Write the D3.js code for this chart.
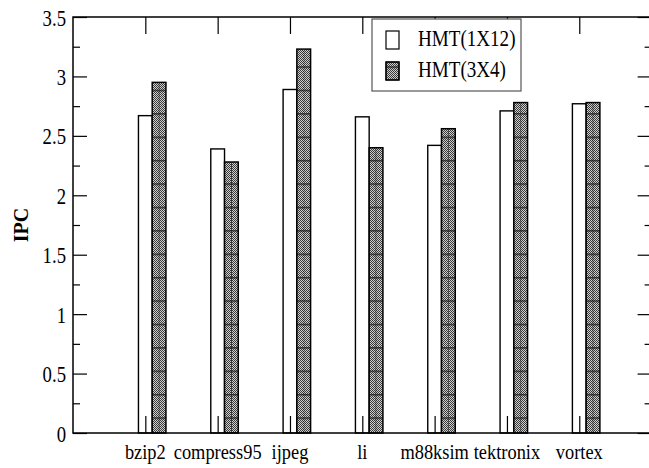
<!DOCTYPE html>
<html>
<head>
<meta charset="utf-8">
<script src="https://cdn.jsdelivr.net/npm/d3@7"></script>
<style>
  body { margin: 0; background: #fff; }
  svg text { font-family: "Liberation Serif", "Times New Roman", serif; fill: #000; }
</style>
</head>
<body>
<div id="chart"></div>
<script>
// data
const categories = ["bzip2", "compress95", "ijpeg", "li", "m88ksim", "tektronix", "vortex"];
const seriesNames = ["HMT(1X12)", "HMT(3X4)"];
const hmt1x12 = [2.67, 2.39, 2.89, 2.66, 2.42, 2.71, 2.77];
const hmt3x4  = [2.95, 2.28, 3.23, 2.40, 2.56, 2.78, 2.78];
const yMajor = [0, 0.5, 1, 1.5, 2, 2.5, 3, 3.5];
const yMinor = [0.25, 0.75, 1.25, 1.75, 2.25, 2.75, 3.25];

const width = 649, height = 468;
const pLeft = 73, pRight = 651.6, pTop = 17, pBottom = 433;
const barW = 0.19; // in x units

const svg = d3.select("#chart").append("svg")
  .attr("width", width).attr("height", height);

const defs = svg.append("defs");
const dots = defs.append("pattern").attr("id", "dots")
  .attr("patternUnits", "userSpaceOnUse").attr("width", 2).attr("height", 2);
dots.append("rect").attr("width", 2).attr("height", 2).attr("fill", "#cfcfcf");
dots.append("rect").attr("width", 1).attr("height", 1).attr("fill", "#3a3a3a");
dots.append("rect").attr("x", 1).attr("y", 1).attr("width", 1).attr("height", 1).attr("fill", "#3a3a3a");
const hl = defs.append("pattern").attr("id", "hlines")
  .attr("patternUnits", "userSpaceOnUse").attr("width", 10).attr("height", 23.4);
hl.append("rect").attr("y", 19.8).attr("width", 10).attr("height", 1.1).attr("fill", "#111");

const x = d3.scaleLinear().domain([0, categories.length + 1]).range([pLeft, pRight]);
const y = d3.scaleLinear().domain([0, 3.5]).range([pBottom, pTop]);

// white bars
svg.append("g").selectAll("rect").data(hmt1x12).join("rect")
  .attr("x", (d, i) => x(i + 1 - barW / 2))
  .attr("y", d => y(d))
  .attr("width", x(barW) - x(0))
  .attr("height", d => pBottom - y(d))
  .attr("fill", "#fff").attr("stroke", "#000").attr("stroke-width", 1.4);

// hatched bars
const hb = svg.append("g").selectAll("g").data(hmt3x4).join("g");
hb.append("rect")
  .attr("x", (d, i) => x(i + 1 + barW / 2))
  .attr("y", d => y(d))
  .attr("width", x(barW) - x(0))
  .attr("height", d => pBottom - y(d))
  .attr("fill", "url(#dots)");
hb.append("rect")
  .attr("x", (d, i) => x(i + 1 + barW / 2))
  .attr("y", d => y(d))
  .attr("width", x(barW) - x(0))
  .attr("height", d => pBottom - y(d))
  .attr("fill", "url(#hlines)").attr("stroke", "#000").attr("stroke-width", 1.5);
hb.append("line")
  .attr("x1", (d, i) => x(i + 1 + barW)).attr("x2", (d, i) => x(i + 1 + barW))
  .attr("y1", d => y(d)).attr("y2", pBottom)
  .attr("stroke", "#222").attr("stroke-width", 1).attr("stroke-dasharray", "1,1");

// frame
svg.append("rect").attr("x", pLeft).attr("y", pTop)
  .attr("width", pRight - pLeft).attr("height", pBottom - pTop)
  .attr("fill", "none").attr("stroke", "#000").attr("stroke-width", 1.5);

const xt = d3.range(1, categories.length + 1);
function tickStyle(g) {
  g.select(".domain").remove();
  g.selectAll("line").attr("stroke", "#000").attr("stroke-width", 1.2);
}
svg.append("g").attr("transform", `translate(0,${pBottom})`)
  .call(d3.axisBottom(x).tickValues(xt).tickSize(-17).tickFormat(""))
  .call(tickStyle);
svg.append("g").attr("transform", `translate(0,${pTop})`)
  .call(d3.axisTop(x).tickValues(xt).tickSize(-17).tickFormat(""))
  .call(tickStyle);
svg.append("g").attr("transform", `translate(${pLeft},0)`)
  .call(d3.axisLeft(y).tickValues(yMajor).tickSize(-14).tickFormat(""))
  .call(tickStyle);
svg.append("g").attr("transform", `translate(${pLeft},0)`)
  .call(d3.axisLeft(y).tickValues(yMinor).tickSize(-7).tickFormat(""))
  .call(tickStyle);
svg.append("g").attr("transform", `translate(${pRight},0)`)
  .call(d3.axisRight(y).tickValues(yMajor).tickSize(-14).tickFormat(""))
  .call(tickStyle);
svg.append("g").attr("transform", `translate(${pRight},0)`)
  .call(d3.axisRight(y).tickValues(yMinor).tickSize(-7).tickFormat(""))
  .call(tickStyle);

// y tick labels
svg.append("g").selectAll("text").data(yMajor).join("text")
  .attr("transform", d => `translate(66,${y(d) + 8.5}) scale(0.78,1)`)
  .attr("text-anchor", "end").style("font-size", "24px")
  .text(d => String(d));

// category labels
svg.append("g").selectAll("text").data(categories).join("text")
  .attr("transform", (d, i) => `translate(${x(i + 1)},459) scale(0.92,1)`)
  .attr("text-anchor", "middle").style("font-size", "20px")
  .text(d => d);

// y title
svg.append("text")
  .attr("transform", `translate(28,${(pTop + pBottom) / 2}) rotate(-90)`)
  .attr("text-anchor", "middle").style("font-size", "20px").style("font-weight", "bold")
  .text("IPC");

// legend
const lg = svg.append("g");
lg.append("rect").attr("x", 372).attr("y", 19).attr("width", 149).attr("height", 72)
  .attr("fill", "#fff").attr("stroke", "#555").attr("stroke-width", 1.2);
const fills = [["#fff"], ["url(#dots)", "url(#hlines)"]];
seriesNames.forEach((name, i) => {
  const yy = 31 + i * 31;
  fills[i].forEach(f => {
    lg.append("rect").attr("x", 386).attr("y", yy).attr("width", 13).attr("height", 18)
      .attr("fill", f).attr("stroke", "#000").attr("stroke-width", 1.2);
  });
  lg.append("text").attr("transform", `translate(418,${yy + 14.5}) scale(0.83,1)`)
    .style("font-size", "23px").text(name);
});
</script>
</body>
</html>
